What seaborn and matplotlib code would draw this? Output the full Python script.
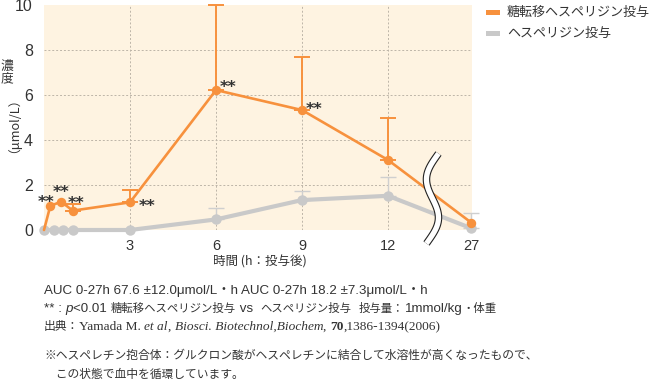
import numpy as np
import pandas as pd
import matplotlib
matplotlib.use("Agg")
import matplotlib.pyplot as plt
import matplotlib.transforms as mtrans
from matplotlib.patches import Rectangle
import seaborn as sns

# ---------------- data ----------------
series_names = ["糖転移ヘスペリジン投与", "ヘスペリジン投与"]

glc_hours = [0, 0.22, 0.6, 1, 3, 6, 9, 12, 27]
glc_mean = [0, 1.07, 1.26, 0.86, 1.23, 6.22, 5.33, 3.11, 0.33]
glc_err = [0, 0, 0, 0.30, 0.55, 3.78, 2.34, 1.89, 0]

hes_hours = [0, 0.35, 0.67, 1, 3, 6, 9, 12, 27]
hes_mean = [0, 0, 0, 0, 0, 0.47, 1.33, 1.52, 0.08]
hes_err = [0, 0, 0, 0, 0, 0.53, 0.42, 0.85, 0.68]

sig_hours = [0.22, 0.6, 1, 3, 6, 9]          # "**" marks on the glc series
x_tick_hours = [3, 6, 9, 12, 27]
x_tick_labels = ["3", "6", "9", "12", "27"]
y_ticks = [0, 2, 4, 6, 8, 10]

notes_auc = "AUC 0-27h 67.6 ±12.0μmol/L・h AUC 0-27h 18.2 ±7.3μmol/L・h"
note_hesp = ["※ヘスペレチン抱合体：グルクロン酸がヘスペレチンに結合して水溶性が高くなったもので、",
             "　この状態で血中を循環しています。"]

# broken axis: 27 h drawn just after 12 h
BREAK_POS = {27: 14.9}
def pos(h):
    return BREAK_POS.get(h, h)

ORANGE = "#F7913D"
GRAY = "#C9C9C9"
BG = "#FEF3E1"
TXT = "#333333"
JP = ["Noto Sans CJK JP", "DejaVu Sans"]
LAT = ["Liberation Sans", "Noto Sans CJK JP"]
SER = ["Liberation Serif", "Noto Sans CJK JP"]

sns.set_style("white")
plt.rcParams["font.family"] = LAT

W, H = 651, 381
fig = plt.figure(figsize=(W / 100, H / 100), dpi=100)
ax = fig.add_axes([44 / W, 1 - 230 / H, (472 - 44) / W, 225 / H])
ax.set_facecolor(BG)

df_glc = pd.DataFrame({"pos": [pos(h) for h in glc_hours], "value": glc_mean, "series": series_names[0]})
df_hes = pd.DataFrame({"pos": [pos(h) for h in hes_hours], "value": hes_mean, "series": series_names[1]})

# error bars (upper only)
def upper_err(df, err, color, lw, z):
    m = np.array(err) > 0
    x = df["pos"].values[m]
    y = df["value"].values[m]
    e = np.array(err)[m]
    ax.errorbar(x, y, yerr=[np.zeros_like(e), e], fmt="none", ecolor=color,
                elinewidth=lw, capsize=5.5, capthick=lw, zorder=z, clip_on=False)

upper_err(df_hes, hes_err, "#CFCFCF", 1.0, 2)
sns.lineplot(data=df_hes, x="pos", y="value", color=GRAY, lw=3.0, marker="o",
             markersize=7.5, markeredgewidth=0, ax=ax, clip_on=False, zorder=3,
             legend=False, errorbar=None, sort=False)
upper_err(df_glc, glc_err, ORANGE, 1.4, 4)
sns.lineplot(data=df_glc, x="pos", y="value", color=ORANGE, lw=1.9, marker="o",
             markersize=6.8, markeredgewidth=0, ax=ax, clip_on=False, zorder=5,
             legend=False, errorbar=None, sort=False,
             markevery=list(range(1, len(glc_hours))))

# significance marks
sig_off = {0.22: (-3.0, 2.8), 0.6: (0.0, 6.6), 1: (2.6, 5.4),
           3: (6.5, -3.2), 6: (3, 1.5), 9: (3, 0.3)}
for h in sig_hours:
    i = glc_hours.index(h)
    ax.annotate("**", xy=(pos(h), glc_mean[i]), xytext=sig_off[h], textcoords="offset points",
                ha="left" if h >= 3 else "center", va="center", fontsize=11.5,
                fontweight="bold", color="#333333", family="DejaVu Sans", zorder=8,
                annotation_clip=False)

# axes styling
ax.set_xlim(0, (472 - 44) / 28.67)
ax.set_ylim(0, 10)
ax.set_xticks([pos(h) for h in x_tick_hours])
ax.set_xticklabels(x_tick_labels)
ax.set_yticks(y_ticks)
ax.tick_params(axis="x", length=0, pad=6.5, labelsize=10.5, labelcolor=TXT)
ax.tick_params(axis="y", length=0, pad=8, labelsize=11.5, labelcolor=TXT)
for s in ax.spines.values():
    s.set_visible(False)
for y in y_ticks[1:-1]:
    ax.axhline(y, color="#BDB5A8", lw=0.7, ls=(0, (2, 2)), zorder=1)
for h in x_tick_hours[:-1]:
    ax.axvline(pos(h), color="#BDB5A8", lw=0.7, ls=(0, (2, 2)), zorder=1)
ax.set_xlabel("")
ax.set_ylabel("")

# axis break mark (decoration)
s = np.linspace(0, 1, 80)
dx = -10.0 * np.sin(2 * np.pi * s) + 6.0 * np.cos(np.pi * s)
dy = 45 - 90 * s
brk_t = fig.dpi_scale_trans + mtrans.ScaledTranslation(13.55, 1.4, ax.transData)
ax.plot(dx / 100, dy / 100, transform=brk_t, color="#222222", lw=5.4, clip_on=False,
        zorder=9, solid_capstyle="butt")
ax.plot(dx / 100, dy / 100, transform=brk_t, color="white", lw=3.8, clip_on=False,
        zorder=10, solid_capstyle="butt")

# y label
def F(x, y):
    return (x / W, 1 - y / H)
fig.text(*F(7, 66), "濃", ha="center", va="center", fontsize=9.2, family=JP, color=TXT)
fig.text(*F(7, 79), "度", ha="center", va="center", fontsize=9.2, family=JP, color=TXT)
fig.text(*F(7, 119), "（μmol/L）", ha="center", va="center", rotation=90, fontsize=9.2,
         family=JP, color=TXT)

# x label
fig.text(*F(260, 262), "時間 (h：投与後)", ha="center", va="center", fontsize=9.0, family=JP, color=TXT)

# legend (manual)
for k, (name, col) in enumerate(zip(series_names, [ORANGE, GRAY])):
    yc = 12.7 + k * 21
    fig.patches.append(Rectangle(F(486, yc + 2.5), 14 / W, 5 / H, transform=fig.transFigure,
                                 facecolor=col, edgecolor="none"))
    fig.text(*F(507, yc), name, ha="left", va="center", fontsize=9.4, family=JP, color=TXT)

# footnotes
renderer = fig.canvas.get_renderer()
def runs(x, y, parts):
    for txt, kw in parts:
        t = fig.text(*F(x, y), txt, ha="left", va="baseline", color=TXT, **kw)
        x += t.get_window_extent(renderer).width

fl, fj, fj2 = 9.6, 8.5, 8.2
runs(44, 294, [(notes_auc, dict(family=LAT, fontsize=fl))])
runs(44, 312, [("** : ", dict(family=LAT, fontsize=fl)),
               ("p", dict(family=LAT, style="italic", fontsize=fl)),
               ("<0.01 ", dict(family=LAT, fontsize=fl)),
               ("糖転移ヘスペリジン投与", dict(family=JP, fontsize=fj2)),
               (" vs  ", dict(family=LAT, fontsize=fl)),
               ("ヘスペリジン投与", dict(family=JP, fontsize=fj2)),
               ("  ", dict(family=LAT, fontsize=fl)),
               ("投与量：", dict(family=JP, fontsize=fj2)),
               ("1mmol/kg", dict(family=LAT, fontsize=fl)),
               ("・体重", dict(family=JP, fontsize=fj2))])
runs(44, 330, [("出典：", dict(family=JP, fontsize=fj)),
               ("Yamada M. ", dict(family=SER, fontsize=fl)),
               ("et al", dict(family=SER, style="italic", fontsize=fl)),
               (", ", dict(family=SER, fontsize=fl)),
               ("Biosci. Biotechnol,Biochem", dict(family=SER, style="italic", fontsize=fl)),
               (", ", dict(family=SER, fontsize=fl)),
               ("70", dict(family=SER, weight="bold", fontsize=fl)),
               (",1386-1394(2006)", dict(family=SER, fontsize=fl))])
runs(44, 359, [(note_hesp[0], dict(family=JP, fontsize=fj))])
runs(44, 378, [(note_hesp[1], dict(family=JP, fontsize=fj))])

fig.savefig("out.png", dpi=100)
